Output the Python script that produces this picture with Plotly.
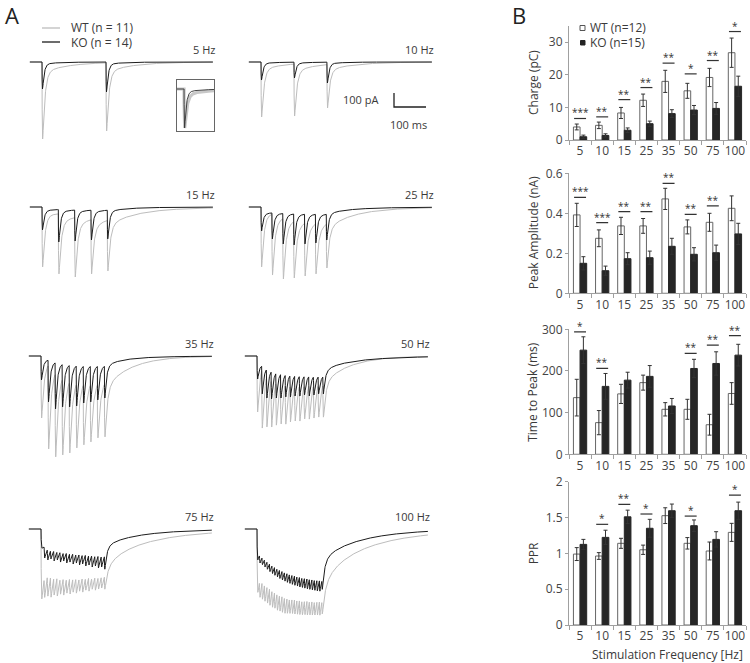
import numpy as np
import plotly.graph_objects as go

W, H = 750, 663

# ---------------- Panel B data ----------------
freqs = ["5", "10", "15", "25", "35", "50", "75", "100"]

charge_wt = [4.0, 4.5, 8.3, 12.2, 18.0, 15.1, 19.2, 26.8]
charge_wt_err = [0.9, 1.0, 1.7, 1.9, 3.4, 2.3, 2.8, 4.5]
charge_ko = [1.0, 1.4, 3.0, 5.0, 8.1, 9.2, 9.7, 16.5]
charge_ko_err = [0.5, 0.5, 0.7, 0.8, 1.2, 1.4, 1.8, 3.1]
charge_sig_y = [6.6, 7.1, 12.4, 16.1, 23.6, 20.3, 24.4, 33.3]
charge_sig = ["***", "**", "**", "**", "**", "*", "**", "*"]

amp_wt = [0.392, 0.275, 0.337, 0.337, 0.472, 0.332, 0.355, 0.425]
amp_wt_err = [0.058, 0.042, 0.043, 0.037, 0.053, 0.035, 0.045, 0.062]
amp_ko = [0.150, 0.113, 0.173, 0.178, 0.235, 0.195, 0.203, 0.297]
amp_ko_err = [0.033, 0.023, 0.030, 0.033, 0.040, 0.033, 0.038, 0.053]
amp_sig_y = [0.48, 0.353, 0.408, 0.408, 0.55, 0.395, 0.437, None]
amp_sig = ["***", "***", "**", "**", "**", "**", "**", ""]

ttp_wt = [136, 76, 145, 172, 108, 108, 71, 146]
ttp_wt_err = [44, 29, 23, 18, 16, 24, 25, 26]
ttp_ko = [250, 163, 178, 187, 116, 206, 218, 238]
ttp_ko_err = [32, 31, 19, 26, 18, 22, 28, 26]
ttp_sig_y = [294, 206, None, None, None, 242, 262, 285]
ttp_sig = ["*", "**", "", "", "", "**", "**", "**"]

ppr_wt = [0.99, 0.963, 1.14, 1.05, 1.526, 1.14, 1.033, 1.293]
ppr_wt_err = [0.09, 0.047, 0.07, 0.065, 0.11, 0.08, 0.125, 0.126]
ppr_ko = [1.125, 1.223, 1.51, 1.35, 1.595, 1.386, 1.195, 1.595]
ppr_ko_err = [0.07, 0.10, 0.093, 0.125, 0.093, 0.08, 0.107, 0.12]
ppr_sig_y = [None, 1.405, 1.684, 1.549, None, 1.52, None, 1.814]
ppr_sig = ["", "*", "**", "*", "", "*", "", "*"]

# ---------------- Panel A data (pA of inward current) ----------------
trace_labels = ["5 Hz", "10 Hz", "15 Hz", "25 Hz", "35 Hz", "50 Hz", "75 Hz", "100 Hz"]
pulse_interval_ms = [200, 103, 51, 34, 22, 14.7, 9.9, 7.8]

wt_5hz = [550, 493]
ko_5hz = [193, 214]
wt_10hz = [393, 386, 328]
ko_10hz = [129, 114, 150]
wt_15hz = [428, 478, 500, 478, 457]
ko_15hz = [164, 250, 243, 236, 228]
wt_25hz = [428, 486, 514, 507, 493, 478, 436]
ko_25hz = [171, 228, 264, 271, 264, 257, 236]
wt_35hz = [443, 664, 721, 707, 693, 657, 635, 614, 585, 578]
ko_35hz = [171, 328, 378, 364, 364, 357, 336, 328, 314, 300]
wt_50hz = [400, 514, 507, 507, 493, 486, 486, 471, 464, 464, 450, 450, 443, 436, 436]
ko_50hz = [164, 271, 300, 307, 300, 300, 293, 293, 286, 286, 278, 286, 278, 271, 271]
wt_75hz = [493, 486, 478, 486, 471, 478, 464, 471, 457, 464, 450, 457, 443, 450, 436,
           443, 428, 436, 428, 421, 428]
ko_75hz = [129, 207, 221, 214, 228, 221, 236, 228, 243, 236, 250, 243, 257, 250, 264,
           257, 271, 264, 278, 271, 286]
wt_100hz = [443, 486, 500, 514, 528, 543, 557, 564, 578, 585, 593, 600, 600, 600, 593,
            593, 585, 585, 578, 571, 571, 564, 564, 557, 557, 557, 550]
ko_100hz = [214, 243, 250, 264, 271, 286, 293, 300, 307, 321, 328, 336, 343, 350, 357,
            364, 371, 378, 378, 386, 393, 400, 400, 407, 414, 414, 421]

wt_troughs = [wt_5hz, wt_10hz, wt_15hz, wt_25hz, wt_35hz, wt_50hz, wt_75hz, wt_100hz]
ko_troughs = [ko_5hz, ko_10hz, ko_15hz, ko_25hz, ko_35hz, ko_50hz, ko_75hz, ko_100hz]

# sustained (tonic) inward current during the train, pA
wt_tonic_fast = [0, 0, 0, 0, 0, 0, 207, 221]
wt_tonic_slow = [0, 0, 43, 30, 0, 0, 0, 86]
ko_tonic_fast = [0, 0, 14, 36, 15, 43, 114, 136]
ko_tonic_slow = [0, 0, 0, 0, 20, 71, 43, 178]
tonic_tau_ms = [100, 100, 100, 100, 80, 80, 80, 70]

# EPSC kinetics (ms): rise, fast decay, slow fraction, slow decay
wt_kin = [0.8, 7.0, 0.10, 80.0]
ko_kin = [0.8, 5.0, 0.05, 50.0]
# recovery of the sustained current after the train: weight fast, tau fast, tau slow
wt_recovery = [0.3, 20.0, 200.0]
ko_recovery = [0.4, 10.0, 140.0]

# ---------------- layout geometry ----------------
MS_PER_PX = 3.125
PA_PER_PX = 7.14
panel_first_px = [42, 261, 42, 261, 41, 257, 41, 257]
panel_base_px = [62, 62, 207, 207, 356, 356, 529, 529]

GRAY = "#bdbdbd"
BLACK = "#1c1c1c"
TXT = "#3a3a3a"
FONT = "Open Sans"


def xdom(a, b):
    return [a / W, b / W]


def ydom(top, bottom):
    return [1 - bottom / H, 1 - top / H]


def axkeys(n):
    return ("xaxis" if n == 1 else f"xaxis{n}", "yaxis" if n == 1 else f"yaxis{n}",
            "x" if n == 1 else f"x{n}", "y" if n == 1 else f"y{n}")


def make_kernel(kin):
    tr, tf, fs, ts = kin

    def raw(s):
        s = np.asarray(s, dtype=float)
        sp = np.clip(s, 0, None)
        v = (1 - np.exp(-sp / tr)) * ((1 - fs) * np.exp(-sp / tf) + fs * np.exp(-sp / ts))
        return np.where(s > 0, v, 0.0)

    grid = np.arange(0, 30, 0.01)
    vals = raw(grid)
    k = int(np.argmax(vals))
    peak, s_peak = vals[k], grid[k]
    return (lambda s: raw(s) / peak), s_peak


def make_tonic(pf, ps, tb, t_last, rec):
    w, td1, td2 = rec

    def build(tt):
        tt = np.clip(tt, 0, None)
        return pf * (1 - np.exp(-tt / 5.0)) + ps * (1 - np.exp(-tt / tb))

    def f(t):
        t = np.asarray(t, dtype=float)
        end = build(t_last)
        after = end * (w * np.exp(-(t - t_last) / td1) + (1 - w) * np.exp(-(t - t_last) / td2))
        return np.where(t < 0, 0.0, np.where(t <= t_last, build(t), after))
    return f


def synth(troughs, interval, kin, pf, ps, tb, rec, t):
    g, s_peak = make_kernel(kin)
    times = [k * interval for k in range(len(troughs))]
    tonic = make_tonic(pf, ps, tb, times[-1], rec)
    amps = []
    for k, tk in enumerate(times):
        tp = tk + s_peak
        cur = float(tonic(tp)) + sum(amps[j] * float(g(tp - times[j])) for j in range(k))
        amps.append(max(troughs[k] - cur, 0.2 * troughs[k]))
    y = tonic(t)
    for a, tk in zip(amps, times):
        y = y + a * g(t - tk)
    return -y


fig = go.Figure()
layout = dict(
    width=W, height=H, autosize=False,
    margin=dict(l=0, r=0, t=0, b=0, pad=0, autoexpand=False),
    paper_bgcolor="white", plot_bgcolor="white", showlegend=False,
    barmode="group", bargap=0.4, bargroupgap=0,
    font=dict(family=FONT, color=TXT, size=12),
)
annotations = []
shapes = []

t = np.arange(-38, 534.01, 0.5)

for i in range(8):
    n = i + 1
    xk, yk, xr, yr = axkeys(n)
    fx, by = panel_first_px[i], panel_base_px[i]
    layout[xk] = dict(domain=xdom(fx - 16, fx + 180), range=[-16 * MS_PER_PX, 180 * MS_PER_PX],
                      visible=False, fixedrange=True, anchor=yr, automargin=False)
    layout[yk] = dict(domain=ydom(by - 22, by + 105), range=[-105 * PA_PER_PX, 22 * PA_PER_PX],
                      visible=False, fixedrange=True, anchor=xr, automargin=False)
    wt_y = synth(wt_troughs[i], pulse_interval_ms[i], wt_kin, wt_tonic_fast[i], wt_tonic_slow[i],
                 tonic_tau_ms[i], wt_recovery, t)
    ko_y = synth(ko_troughs[i], pulse_interval_ms[i], ko_kin, ko_tonic_fast[i], ko_tonic_slow[i],
                 tonic_tau_ms[i], ko_recovery, t)
    fig.add_trace(go.Scatter(x=t, y=wt_y, mode="lines", line=dict(color=GRAY, width=1),
                             xaxis=xr, yaxis=yr, hoverinfo="skip"))
    fig.add_trace(go.Scatter(x=t, y=ko_y, mode="lines", line=dict(color=BLACK, width=1),
                             xaxis=xr, yaxis=yr, hoverinfo="skip"))
    annotations.append(dict(x=175 * MS_PER_PX, y=13 * PA_PER_PX, xref=xr, yref=yr,
                            text=trace_labels[i], showarrow=False, xanchor="right",
                            yanchor="middle", font=dict(size=11, color=TXT)))

# scale bar in the 10 Hz panel (100 pA, 100 ms)
sb_x0 = (394 - panel_first_px[1]) * MS_PER_PX
sb_y0 = -(107 - panel_base_px[1]) * PA_PER_PX
fig.add_trace(go.Scatter(x=[sb_x0, sb_x0, sb_x0 + 100], y=[sb_y0 + 100, sb_y0, sb_y0],
                         mode="lines", line=dict(color="#222", width=1.3),
                         xaxis="x2", yaxis="y2", hoverinfo="skip"))
annotations.append(dict(x=sb_x0 - 14 * MS_PER_PX, y=sb_y0 + 57, xref="x2", yref="y2",
                        text="100 pA", showarrow=False, xanchor="right", yanchor="middle",
                        font=dict(size=11, color=TXT)))
annotations.append(dict(x=sb_x0 + 45, y=sb_y0 - 17 * PA_PER_PX, xref="x2", yref="y2",
                        text="100 ms", showarrow=False, xanchor="center", yanchor="middle",
                        font=dict(size=11, color=TXT)))

# inset: normalized first EPSC
xk, yk, xr, yr = axkeys(9)
layout[xk] = dict(domain=xdom(177, 214), range=[-22, 93.6], showline=True, mirror=True,
                  linecolor="#666", linewidth=1, showticklabels=False, ticks="",
                  showgrid=False, zeroline=False, fixedrange=True, anchor=yr, automargin=False)
layout[yk] = dict(domain=ydom(80, 131), range=[-1.077, 0.231], showline=True, mirror=True,
                  linecolor="#666", linewidth=1, showticklabels=False, ticks="",
                  showgrid=False, zeroline=False, fixedrange=True, anchor=xr, automargin=False)
ti = np.arange(-22, 93.6, 0.25)
g_wt, _ = make_kernel(wt_kin)
g_ko, _ = make_kernel(ko_kin)
fig.add_trace(go.Scatter(x=ti, y=-g_wt(ti), mode="lines", line=dict(color="#c8c8c8", width=3.2),
                         xaxis=xr, yaxis=yr, hoverinfo="skip"))
fig.add_trace(go.Scatter(x=ti, y=-g_ko(ti), mode="lines", line=dict(color="#333", width=0.9),
                         xaxis=xr, yaxis=yr, hoverinfo="skip"))

# panel A legend
for yy, col, txt in [(28, GRAY, "WT (n = 11)"), (42, BLACK, "KO (n = 14)")]:
    shapes.append(dict(type="line", xref="paper", yref="paper", x0=42 / W, x1=60 / W,
                       y0=1 - yy / H, y1=1 - yy / H, line=dict(color=col, width=1.3)))
    annotations.append(dict(x=69 / W, y=1 - yy / H, xref="paper", yref="paper", text=txt,
                            showarrow=False, xanchor="left", yanchor="middle",
                            font=dict(size=12, color=TXT)))

# panel letters
for xx, letter in [(3, "A"), (510, "B")]:
    annotations.append(dict(x=xx / W, y=1 - 15 / H, xref="paper", yref="paper", text=letter,
                            showarrow=False, xanchor="left", yanchor="middle",
                            font=dict(size=22, color="#222")))

# ---------------- Panel B bar charts ----------------
bar_panels = [
    (charge_wt, charge_wt_err, charge_ko, charge_ko_err, charge_sig_y, charge_sig,
     (26, 140), [0, 35], 10, "Charge (pC)"),
    (amp_wt, amp_wt_err, amp_ko, amp_ko_err, amp_sig_y, amp_sig,
     (173.3, 293.3), [0, 0.6], 0.2, "Peak Amplitude (nA)"),
    (ttp_wt, ttp_wt_err, ttp_ko, ttp_ko_err, ttp_sig_y, ttp_sig,
     (329.3, 454.3), [0, 300], 100, "Time to Peak (ms)"),
    (ppr_wt, ppr_wt_err, ppr_ko, ppr_ko_err, ppr_sig_y, ppr_sig,
     (481.7, 625), [0, 2], 0.5, "PPR"),
]

for j, (wt, wte, ko, koe, sy, st, (top, bot), rng, dt, title) in enumerate(bar_panels):
    n = 10 + j
    xk, yk, xr, yr = axkeys(n)
    layout[xk] = dict(domain=xdom(569, 746), type="category", categoryorder="array",
                      categoryarray=freqs, range=[-0.5, 7.5], autorange=False,
                      showline=True, linecolor="#a0a0a0", linewidth=1,
                      ticks="outside", ticklen=4, tickcolor="#a0a0a0", tickson="boundaries",
                      tickangle=0, showgrid=False, zeroline=False, automargin=False,
                      tickfont=dict(size=12, color="#444"), fixedrange=True, anchor=yr)
    layout[yk] = dict(domain=ydom(top, bot), range=rng, autorange=False, dtick=dt,
                      showline=True, linecolor="#a0a0a0", linewidth=1, ticks="outside",
                      ticklen=3, tickcolor="#a0a0a0", showgrid=False, zeroline=False,
                      automargin=False,
                      tickfont=dict(size=12, color="#444"), fixedrange=True, anchor=xr)
    err_style = dict(type="data", visible=True, color="#333", thickness=1, width=2)
    fig.add_trace(go.Bar(x=freqs, y=wt, error_y=dict(array=wte, **err_style),
                         marker=dict(color="white", line=dict(color="#666", width=1)),
                         xaxis=xr, yaxis=yr, hoverinfo="skip"))
    fig.add_trace(go.Bar(x=freqs, y=ko, error_y=dict(array=koe, **err_style),
                         marker=dict(color="#262626", line=dict(color="#262626", width=1)),
                         xaxis=xr, yaxis=yr, hoverinfo="skip"))
    for k, (yv, s) in enumerate(zip(sy, st)):
        if yv is None:
            continue
        shapes.append(dict(type="line", xref=xr, yref=yr, x0=k - 0.27, x1=k + 0.27,
                           y0=yv, y1=yv, line=dict(color="#333", width=1.2)))
        annotations.append(dict(x=k, y=yv, xref=xr, yref=yr, text=s, showarrow=False,
                                xanchor="center", yanchor="bottom", yshift=-3,
                                font=dict(size=10, color="#333")))
    annotations.append(dict(x=533 / W, y=1 - (top + bot) / 2 / H, xref="paper", yref="paper",
                            text=title, textangle=-90, showarrow=False, xanchor="center",
                            yanchor="middle", font=dict(size=12, color=TXT)))

annotations.append(dict(x=667 / W, y=1 - 654 / H, xref="paper", yref="paper",
                        text="Stimulation Frequency [Hz]", showarrow=False, xanchor="center",
                        yanchor="middle", font=dict(size=12, color=TXT)))

# panel B legend
shapes.append(dict(type="rect", xref="paper", yref="paper", x0=580 / W, x1=585 / W,
                   y0=1 - 30.5 / H, y1=1 - 25.5 / H, fillcolor="white",
                   line=dict(color="#555", width=1)))
shapes.append(dict(type="rect", xref="paper", yref="paper", x0=580.5 / W, x1=585 / W,
                   y0=1 - 45 / H, y1=1 - 40.5 / H, fillcolor="#222",
                   line=dict(color="#222", width=1)))
annotations.append(dict(x=588 / W, y=1 - 28 / H, xref="paper", yref="paper", text="WT (n=12)",
                        showarrow=False, xanchor="left", yanchor="middle",
                        font=dict(size=12, color=TXT)))
annotations.append(dict(x=588 / W, y=1 - 43 / H, xref="paper", yref="paper", text="KO (n=15)",
                        showarrow=False, xanchor="left", yanchor="middle",
                        font=dict(size=12, color=TXT)))

layout["annotations"] = annotations
layout["shapes"] = shapes
fig.update_layout(**layout)
fig.write_html(
    "out.html",
    config={"responsive": False, "displayModeBar": False},
    post_script=(
        "var gd=document.getElementById('{plot_id}');"
        "gd.style.position='fixed';gd.style.top='0px';gd.style.left='0px';"
        "document.documentElement.style.margin='0';"
        "document.body.style.margin='0';document.body.style.padding='0';"
        "document.documentElement.style.overflow='hidden';"
        "document.body.style.overflow='hidden';"
    ),
)
